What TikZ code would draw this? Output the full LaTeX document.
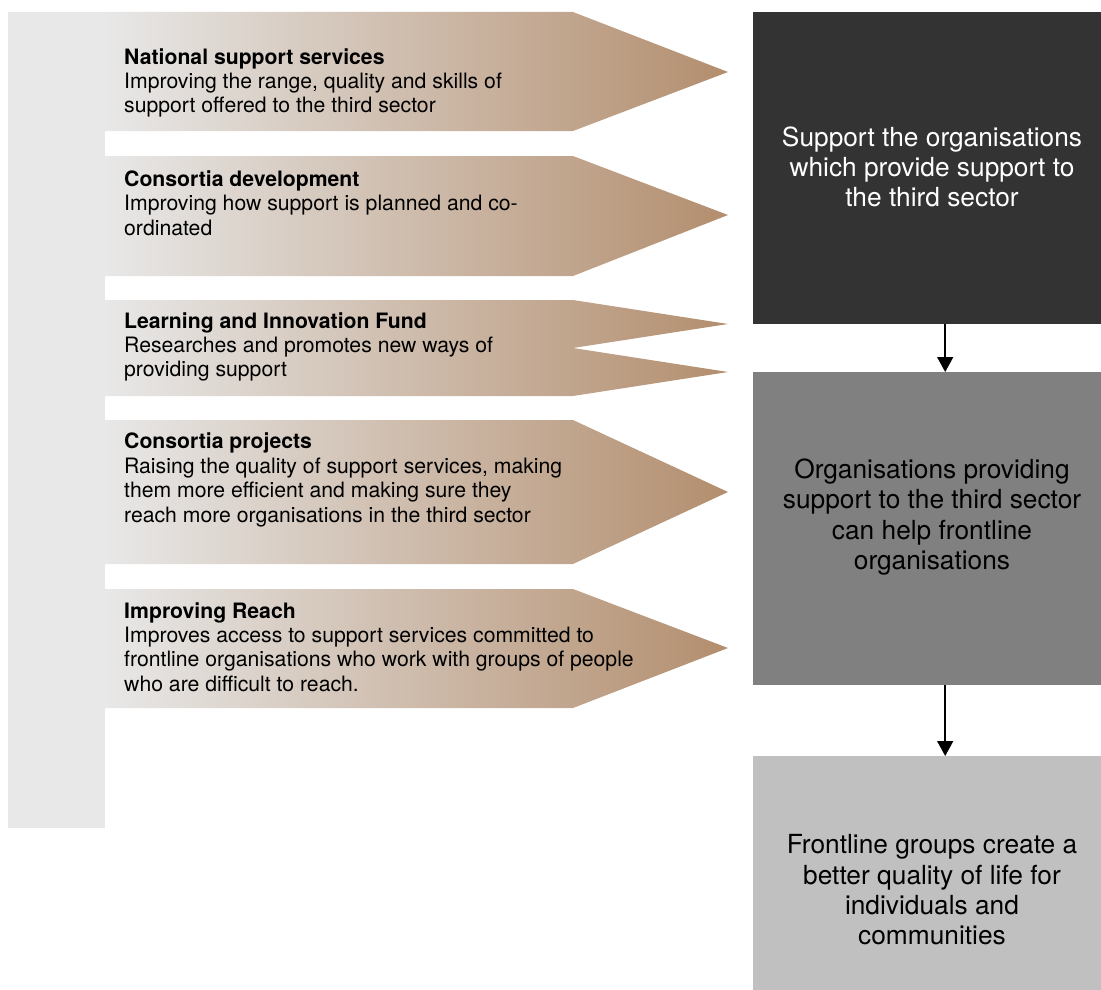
\documentclass[tikz,border=0pt]{standalone}
\usepackage{fontspec}
\setmainfont{TeX Gyre Heros}
\usetikzlibrary{positioning,arrows.meta}

\definecolor{barGray}{HTML}{E8E8E8}
\definecolor{tanBrown}{HTML}{B38E6E}
\definecolor{darkBox}{HTML}{333333}
\definecolor{midBox}{HTML}{808080}
\definecolor{lightBox}{HTML}{C0C0C0}

\begin{document}
\begin{tikzpicture}
  [x=1pt,y=-1pt,
   itemT/.style={anchor=west,align=left,inner sep=0pt,font=\fontsize{21.2}{24.4}\selectfont},
   goalB/.style={anchor=north west,minimum width=348pt,inner sep=0pt},
   goalT/.style={align=center,inner sep=0pt,font=\fontsize{26.3}{30.3}\selectfont},
   flowA/.style={line width=1.5pt,-{Triangle[width=16pt,length=15pt]}}]

  \useasboundingbox (0,0) rectangle (1101,990);

  % grey bar behind the arrows
  \fill[barGray] (8,12) rectangle (105,828);

  % arrows: top, bottom, tip
  \foreach \t/\b/\m in {12/131/72, 156/276/215, 300/348/324, 348/396/372, 420/564/492, 589/708/648}
    \shade[left color=barGray,right color=tanBrown]
      (105,\t) -- (573,\t) -- (728,\m) -- (573,\b) -- (105,\b) -- cycle;

  \node[itemT] (nss) at (124,83) {\textbf{National support services}\\
    Improving the range, quality and skills of\\ support offered to the third sector};
  \node[itemT] (cdev) at (124,203) {\textbf{Consortia development}\\
    Improving how support is planned and co-\\ ordinated};
  \node[itemT] (lif) at (124,347) {\textbf{Learning and Innovation Fund}\\
    Researches and promotes new ways of\\ providing support};
  \node[itemT] (cproj) at (124,480) {\textbf{Consortia projects}\\
    Raising the quality of support services, making\\
    them more efficient and making sure they\\
    reach more organisations in the third sector};
  \node[itemT] (reach) at (124,647) {\textbf{Improving Reach}\\
    Improves access to support services committed to\\
    frontline organisations who work with groups of people\\
    who are difficult to reach.};

  % boxes on the right
  \node[goalB,fill=darkBox,minimum height=312pt] (top) at (753,12) {};
  \node[goalB,fill=midBox,minimum height=313pt] (mid) at (753,372) {};
  \node[goalB,fill=lightBox,minimum height=268pt] (bot) at (753,756) {};

  \node[goalT,text=white] (topT) at (932,167) {Support the organisations\\
    which provide support to\\ the third sector};
  \node[goalT] (midT) at (932,517) {Organisations providing\\
    support to the third sector\\ can help frontline\\ organisations};
  \node[goalT] (botT) at (932,890) {Frontline groups create a\\
    better quality of life for\\ individuals and\\ communities};

  \draw[flowA] ([xshift=18pt]top.south) -- ([xshift=18pt]mid.north);
  \draw[flowA] ([xshift=18pt]mid.south) -- ([xshift=18pt]bot.north);

\end{tikzpicture}
\end{document}
